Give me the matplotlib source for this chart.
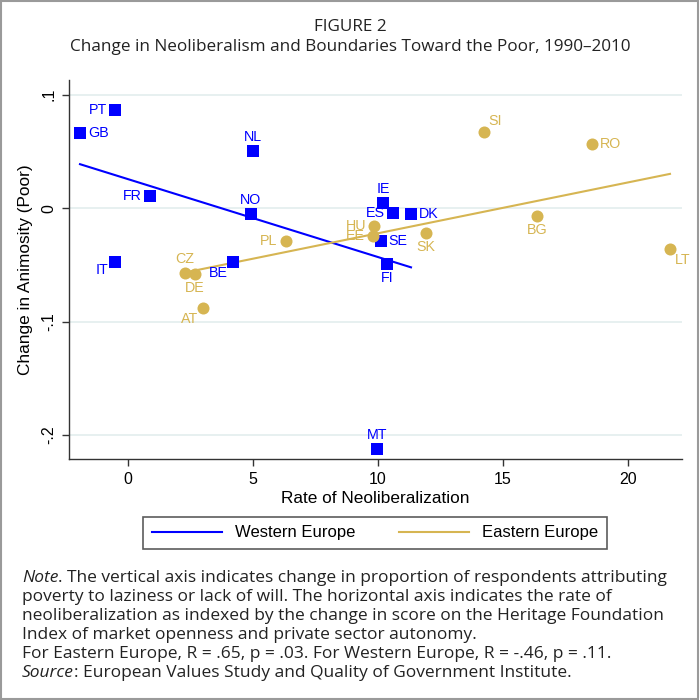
import numpy as np
import matplotlib
matplotlib.use('Agg')
import matplotlib.pyplot as plt
from matplotlib.lines import Line2D
from matplotlib.patches import Rectangle

# Western Europe (squares)
west_codes = ['GB', 'PT', 'IT', 'FR', 'BE', 'NO', 'NL', 'MT', 'SE', 'IE', 'FI', 'ES', 'DK']
west_x = [-1.92, -0.52, -0.52, 0.88, 4.21, 4.91, 5.01, 9.95, 10.11, 10.21, 10.35, 10.61, 11.32]
west_y = [0.066, 0.087, -0.047, 0.011, -0.047, -0.005, 0.050, -0.212, -0.029, 0.005, -0.049, -0.004, -0.005]
west_pos = [3, 9, 8, 9, 7, 12, 12, 12, 3, 12, 6, 9, 3]

# Eastern Europe (circles)
east_codes = ['CZ', 'DE', 'AT', 'PL', 'EE', 'HU', 'SK', 'SI', 'BG', 'RO', 'LT']
east_x = [2.29, 2.69, 3.01, 6.31, 9.81, 9.84, 11.92, 14.24, 16.35, 18.57, 21.68]
east_y = [-0.057, -0.058, -0.088, -0.0285, -0.0247, -0.0159, -0.0214, 0.067, -0.0068, 0.0564, -0.0358]
east_pos = [12, 6, 7, 9, 9, 9, 6, 1, 6, 3, 4]

BLUE = '#0000ff'
GOLD = '#d6b552'

# clock position -> (dx, dy, ha, va) in pixels
clock = {
    12: (0, 7, 'center', 'bottom'),
    1: (4, 4, 'left', 'bottom'),
    3: (8, 0, 'left', 'center'),
    4: (5, -4, 'left', 'top'),
    6: (0, -7, 'center', 'top'),
    7: (-5, -4, 'right', 'top'),
    8: (-7, -8, 'right', 'center'),
    9: (-8, 0, 'right', 'center'),
}

plt.rcParams['font.family'] = ['Liberation Sans', 'DejaVu Sans']

fig = plt.figure(figsize=(7, 7), dpi=100)
fig.patch.set_facecolor('white')
fig.add_artist(Rectangle((0.001, 0.001), 0.996, 0.997, transform=fig.transFigure,
                         fill=False, edgecolor='#9a9a9a', linewidth=1.5))

ax = fig.add_axes([69 / 700, 1 - 459 / 700, (682 - 69) / 700, (459 - 80) / 700])
ax.set_xlim(-2.36, 22.16)
ax.set_ylim(-0.221, 0.113)

for s in ['top', 'right']:
    ax.spines[s].set_visible(False)
for s in ['left', 'bottom']:
    ax.spines[s].set_color('#333333')
    ax.spines[s].set_linewidth(1.0)

ax.set_yticks([0.1, 0, -0.1, -0.2])
ax.set_yticklabels(['.1', '0', '-.1', '-.2'], rotation=90, va='center')
ax.set_xticks([0, 5, 10, 15, 20])
ax.tick_params(axis='both', direction='out', length=5, width=1, color='#333333',
               labelsize=11.5, pad=4)
ax.yaxis.grid(True, color='#e3eeee', linewidth=1.2)
ax.set_axisbelow(True)

ax.set_xlabel('Rate of Neoliberalization', fontsize=12.4, labelpad=3)
ax.set_ylabel('Change in Animosity (Poor)', fontsize=12.4, labelpad=6)

# fit lines
for xs, ys, c in [(west_x, west_y, BLUE), (east_x, east_y, GOLD)]:
    b, a = np.polyfit(xs, ys, 1)
    xx = np.array([min(xs), max(xs)])
    ax.plot(xx, a + b * xx, color=c, linewidth=1.5, zorder=2)

ax.scatter(west_x, west_y, marker='s', s=80, color=BLUE, zorder=3, linewidths=0)
ax.scatter(east_x, east_y, marker='o', s=75, color=GOLD, zorder=3, linewidths=0)

for codes, xs, ys, pos, c in [(west_codes, west_x, west_y, west_pos, BLUE),
                               (east_codes, east_x, east_y, east_pos, GOLD)]:
    for code, x, y, p in zip(codes, xs, ys, pos):
        dx, dy, ha, va = clock[p]
        ax.annotate(code, (x, y), xytext=(dx, dy), textcoords='offset pixels',
                    ha=ha, va=va, color=c, fontsize=10.3, zorder=4)

# legend
handles = [Line2D([], [], color=BLUE, linewidth=1.5),
           Line2D([], [], color=GOLD, linewidth=1.5)]
leg = fig.legend(handles, ['Western Europe', 'Eastern Europe'], loc='center',
                 bbox_to_anchor=(375 / 700, 1 - 533 / 700), ncol=2, frameon=True,
                 fancybox=False, edgecolor='#333333', fontsize=12,
                 handlelength=4.2, columnspacing=2.6, borderpad=0.5, handletextpad=0.8)
leg.get_frame().set_linewidth(1.2)

# title
title_font = ['Open Sans', 'DejaVu Sans']
fig.text(0.5, 1 - 27 / 700, 'FIGURE 2', ha='center', va='center', fontsize=12.3,
         family=title_font, color='#222222')
fig.text(0.5, 1 - 47 / 700, 'Change in Neoliberalism and Boundaries Toward the Poor, 1990\u20132010',
         ha='center', va='center', fontsize=12.3, family=title_font, color='#222222')

# notes
note_lines = [
    [('Note', 'italic'), ('. The vertical axis indicates change in proportion of respondents attributing', 'normal')],
    [('poverty to laziness or lack of will. The horizontal axis indicates the rate of', 'normal')],
    [('neoliberalization as indexed by the change in score on the Heritage Foundation', 'normal')],
    [('Index of market openness and private sector autonomy.', 'normal')],
    [('For Eastern Europe, R = .65, p = .03. For Western Europe, R = -.46, p = .11.', 'normal')],
    [('Source', 'italic'), (': European Values Study and Quality of Government Institute.', 'normal')],
]
fig.canvas.draw()
renderer = fig.canvas.get_renderer()
y0 = 578
for i, parts in enumerate(note_lines):
    x = 22
    for txt, style in parts:
        t = fig.text(x / 700, 1 - (y0 + i * 19) / 700, txt, ha='left', va='center',
                     fontsize=12.5, style=style, family=title_font, color='#222222')
        bb = t.get_window_extent(renderer=renderer)
        x += bb.width

fig.savefig('out.png', dpi=100, facecolor='white')
